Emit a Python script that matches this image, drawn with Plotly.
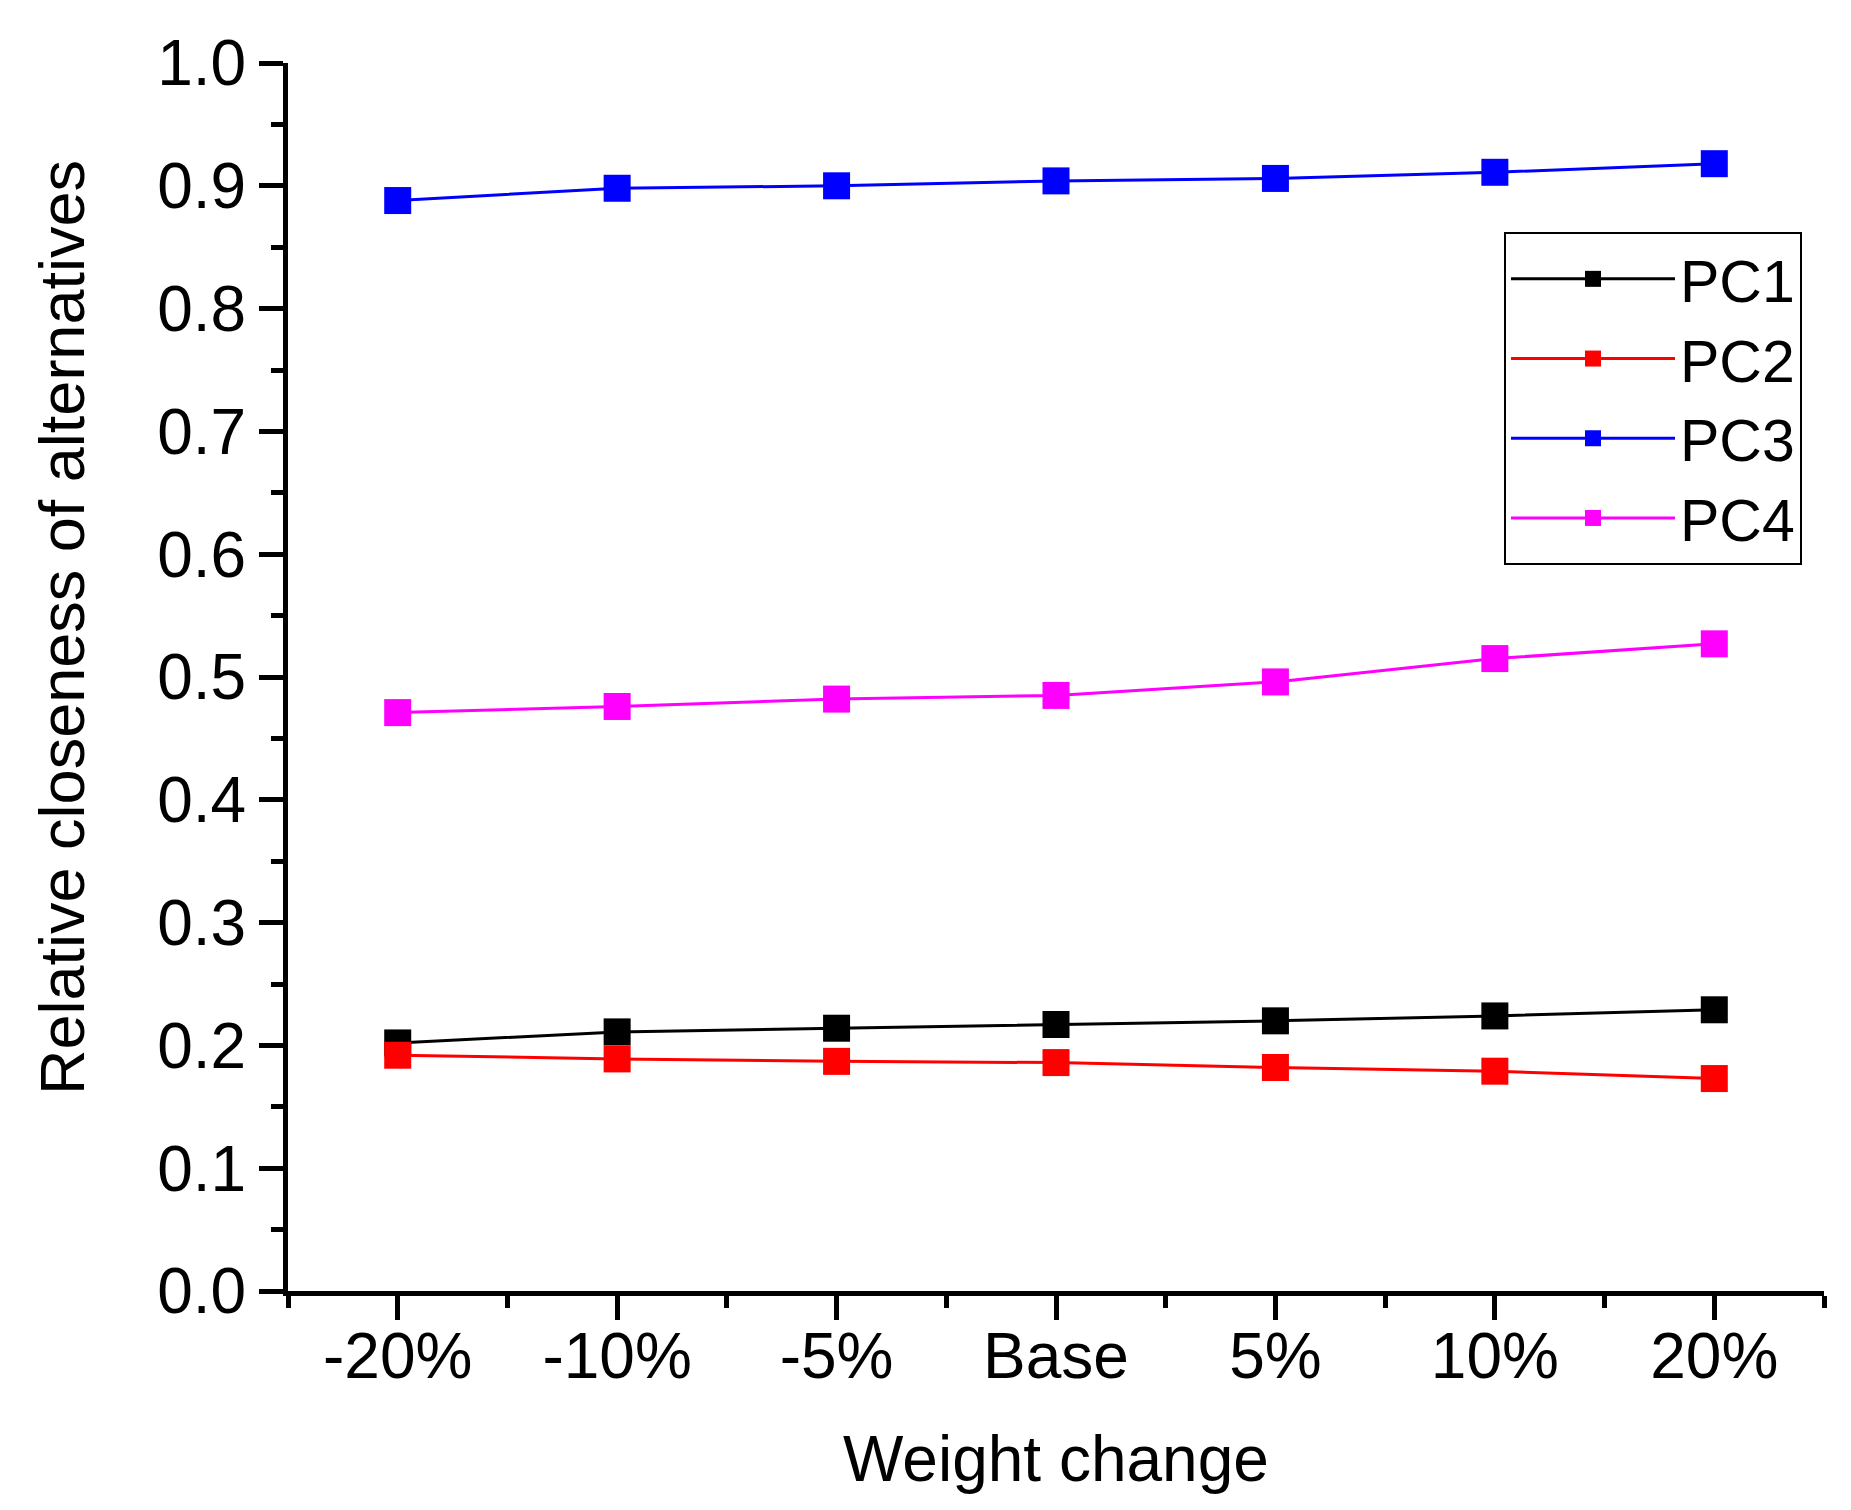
import plotly.graph_objects as go

categories = ["-20%", "-10%", "-5%", "Base", "5%", "10%", "20%"]
pc1 = [0.202, 0.211, 0.214, 0.217, 0.220, 0.224, 0.229]
pc2 = [0.192, 0.189, 0.187, 0.186, 0.182, 0.179, 0.173]
pc3 = [0.888, 0.898, 0.900, 0.904, 0.906, 0.911, 0.918]
pc4 = [0.471, 0.476, 0.482, 0.485, 0.496, 0.515, 0.527]
series_names = ["PC1", "PC2", "PC3", "PC4"]
series_colors = ["#000000", "#ff0000", "#0000ff", "#ff00ff"]
y_ticks = [0.0, 0.1, 0.2, 0.3, 0.4, 0.5, 0.6, 0.7, 0.8, 0.9, 1.0]

x_idx = list(range(len(categories)))
minor_x = [i - 0.5 for i in range(len(categories) + 1)]

FONT = "Arial, 'Liberation Sans', sans-serif"

fig = go.Figure()
for name, vals, col in zip(series_names, [pc1, pc2, pc3, pc4], series_colors):
    fig.add_trace(go.Scatter(
        x=x_idx, y=vals, name=name, mode="lines+markers",
        line=dict(color=col, width=3),
        marker=dict(symbol="square", size=27, color=col),
    ))

# page body has an 8px margin; work in figure coordinates
OFF = 8
W, H = 1851 - OFF, 1510 - OFF
L, T = 288 - OFF, 63 - OFF
R = W - (1824 - OFF)
B = H - (1291 - OFF)
pw, ph = W - L - R, H - T - B

def px_x(px):
    return (px - OFF - L) / pw

def px_y(py):
    return (H - B - (py - OFF)) / ph

fig.update_layout(
    width=W, height=H,
    margin=dict(l=L, r=R, t=T, b=B, pad=0),
    paper_bgcolor="white", plot_bgcolor="white",
    font=dict(family=FONT, size=64, color="black"),
    showlegend=True,
    legend=dict(
        x=px_x(1504), y=px_y(232),
        xanchor="left", yanchor="top",
        bgcolor="white", bordercolor="black", borderwidth=2,
        font=dict(family=FONT, size=59, color="black"),
        itemwidth=164, tracegroupgap=0,
    ),
    xaxis=dict(
        range=[-0.5, len(categories) - 0.5],
        tickmode="array", tickvals=x_idx, ticktext=categories,
        ticks="outside", ticklen=24, tickwidth=5, tickcolor="black",
        showline=True, linecolor="black", linewidth=5, mirror=False,
        showgrid=False, zeroline=False,
        ticklabelstandoff=-19,
        tickfont=dict(family=FONT, size=64, color="black"),
        minor=dict(tickmode="array", tickvals=minor_x, ticks="outside",
                   ticklen=12, tickwidth=5, tickcolor="black", showgrid=False),
        title=dict(text="Weight change", font=dict(family=FONT, size=64, color="black"),
                   standoff=47),
    ),
    yaxis=dict(
        range=[0, 1.0],
        tickmode="array", tickvals=y_ticks, tickformat=".1f",
        ticks="outside", ticklen=24, tickwidth=5, tickcolor="black",
        showline=True, linecolor="black", linewidth=5, mirror=False,
        showgrid=False, zeroline=False,
        tickfont=dict(family=FONT, size=64, color="black"),
        minor=dict(dtick=0.05, tick0=0, ticks="outside",
                   ticklen=12, tickwidth=5, tickcolor="black", showgrid=False),
    ),
    annotations=[dict(
        text="Relative closeness of alternatives",
        xref="paper", yref="paper",
        x=px_x(62), y=px_y(628),
        xanchor="center", yanchor="middle",
        textangle=-90, showarrow=False,
        font=dict(family=FONT, size=63, color="black"),
    )],
)

fig.write_html("out.html")
